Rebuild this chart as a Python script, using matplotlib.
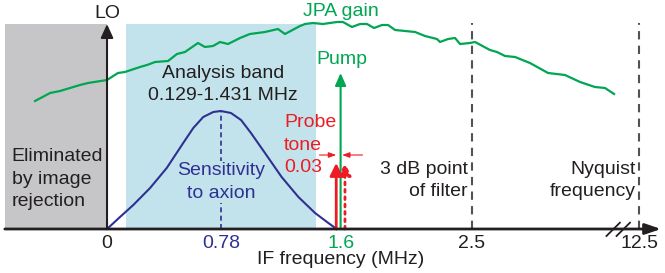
import matplotlib
matplotlib.use("Agg")
import matplotlib.pyplot as plt

plt.rcParams['font.family'] = ['Liberation Sans', 'DejaVu Sans']

# horizontal axis is in MHz up to 2.5, then broken; vertical is arbitrary height
BAND = [0.129, 1.431]
IMAGE_BAND = [-0.70, 0.0]
BOX_TOP = 205

jpa_x = [-0.493, -0.390, -0.322, -0.185, -0.130, 0.000, 0.075, 0.123, 0.226, 0.274,
         0.329, 0.418, 0.479, 0.534, 0.623, 0.671, 0.726, 0.774, 0.829, 0.911,
         0.979, 1.082, 1.171, 1.219, 1.322, 1.356, 1.411, 1.479, 1.527, 1.575,
         1.616, 1.678, 1.733, 1.781, 1.829, 1.884, 1.925, 1.973, 2.110, 2.178,
         2.260, 2.281, 2.336, 2.384, 2.418, 2.486, 2.521, 2.623, 2.671, 2.726,
         2.795, 2.897, 3.021, 3.137, 3.240, 3.342, 3.411, 3.473]
jpa_y = [128, 136, 138, 144, 146, 149, 156, 157, 162, 164,
         167, 168, 175, 177, 186, 182, 183, 187, 185, 191,
         195, 197, 200, 195, 203, 205, 206, 205, 206, 207,
         207, 202, 205, 205, 201, 204, 204, 199, 197, 193,
         190, 187, 190, 191, 185, 186, 187, 179, 177, 173,
         172, 166, 156, 154, 147, 142, 141, 135]

sens_x = [0, 0.089, 0.18, 0.295, 0.409, 0.522, 0.591, 0.659, 0.728, 0.78,
          0.849, 0.918, 0.986, 1.082, 1.196, 1.311, 1.425, 1.516, 1.573]
sens_y = [0, 12, 24, 41, 61, 86, 101, 112, 117, 118,
          116, 109, 96, 76, 52, 32, 16, 6, 0]
sens_peak = 0.78

pump_f = 1.6
pump_h = 156
probe_f = [1.57, 1.63]
probe_h = 66
filter_3db = 2.5
nyquist_pos = 3.645   # drawn position of 12.5 MHz after the axis break
tick_pos = [0, 0.78, 1.6, 2.5, nyquist_pos]
tick_labels = ['0', '0.78', '1.6', '2.5', '12.5']

DARK = '#231f20'
NAVY = '#2e3192'
GREEN = '#00a651'
RED = '#ed1c24'
LBLUE = '#c3e3ec'
GRAY = '#c6c6c8'
DASH = '#4f5257'
FS = 14
LS = 1.45

fig = plt.figure(figsize=(6.65, 2.73), dpi=100)
ax = fig.add_axes([0, 0, 1, 1])
ax.set_xlim(-0.733, 3.822)
ax.set_ylim(-44, 229)
ax.axis('off')

ax.axvspan(IMAGE_BAND[0], IMAGE_BAND[1], ymin=44/273, ymax=(44+BOX_TOP)/273, color=GRAY, lw=0)
ax.axvspan(BAND[0], BAND[1], ymin=44/273, ymax=(44+BOX_TOP)/273, color=LBLUE, lw=0)

ax.plot(jpa_x, jpa_y, color=GREEN, lw=1.6)
ax.plot(sens_x, sens_y, color=NAVY, lw=1.5)
ax.plot([sens_peak, sens_peak], [0, max(sens_y)], color=NAVY, lw=1.2, dashes=(3, 2))

for xv in [filter_3db, nyquist_pos]:
    ax.plot([xv, xv], [0, BOX_TOP + 1], color=DASH, lw=1.5, dashes=(4, 3))

# LO arrow
ax.annotate('', xy=(0, BOX_TOP), xytext=(0, 0),
            arrowprops=dict(arrowstyle='-|>,head_length=0.55,head_width=0.25',
                            mutation_scale=15, lw=1.5, color=DARK, shrinkA=0, shrinkB=0))
# pump
ax.annotate('', xy=(pump_f, pump_h), xytext=(pump_f, 0),
            arrowprops=dict(arrowstyle='-|>,head_length=0.5,head_width=0.22',
                            mutation_scale=15, lw=1.5, color=GREEN, shrinkA=0, shrinkB=0))
# probe tone and its image
for f, ls in zip(probe_f, ['-', ':']):
    ax.annotate('', xy=(f, probe_h), xytext=(f, 0),
                arrowprops=dict(arrowstyle='-|>,head_length=0.5,head_width=0.25',
                                mutation_scale=15, lw=2, color=RED, ls=ls,
                                shrinkA=0, shrinkB=0))
# spacing markers
ax.annotate('', xy=(probe_f[0], 74), xytext=(1.455, 74),
            arrowprops=dict(arrowstyle='-|>,head_length=0.5,head_width=0.18',
                            mutation_scale=9, lw=0.8, color=RED, shrinkA=0, shrinkB=0))
ax.annotate('', xy=(pump_f + 0.01, 74), xytext=(1.75, 74),
            arrowprops=dict(arrowstyle='-|>,head_length=0.5,head_width=0.18',
                            mutation_scale=9, lw=0.8, color=RED, shrinkA=0, shrinkB=0))

# frequency axis with break
ax.annotate('', xy=(3.795, 0), xytext=(-0.70, 0),
            arrowprops=dict(arrowstyle='-|>,head_length=0.5,head_width=0.17',
                            mutation_scale=19, lw=2, color=DARK, shrinkA=0, shrinkB=0))
for x0 in [3.421, 3.490]:
    ax.plot([x0, x0 + 0.092], [-7, 6.3], color=DARK, lw=1.3)

tick_colors = [DARK, NAVY, GREEN, DARK, DARK]
for p, lab, c in zip(tick_pos, tick_labels, tick_colors):
    ax.text(p, -15, lab, color=c, fontsize=FS, ha='center', va='center')
ax.text(1.60, -31, 'IF frequency (MHz)', color=DARK, fontsize=FS, ha='center', va='center')

ax.text(0, 216, 'LO', color=DARK, fontsize=FS, ha='center', va='center')
ax.text(1.60, 218, 'JPA gain', color=GREEN, fontsize=FS, ha='center', va='center')
ax.text(0.795, 144.5, 'Analysis band\n0.129-1.431 MHz', color=DARK, fontsize=FS,
        ha='center', va='center', linespacing=LS)
ax.text(-0.653, 50, 'Eliminated\nby image\nrejection', color=DARK, fontsize=FS,
        ha='left', va='center', linespacing=LS)
ax.text(0.78, 47, 'Sensitivity\nto axion', color=NAVY, fontsize=FS, ha='center', va='center',
        linespacing=LS, bbox=dict(facecolor=LBLUE, edgecolor='none', pad=0.5))
ax.text(1.212, 84, 'Probe\ntone\n0.03', color=RED, fontsize=FS, ha='left', va='center',
        linespacing=LS)
ax.text(1.61, 169, 'Pump', color=GREEN, fontsize=FS, ha='center', va='center')
ax.text(2.47, 48.5, '3 dB point\nof filter', color=DARK, fontsize=FS, ha='right', va='center',
        linespacing=LS, multialignment='right')
ax.text(3.623, 48.5, 'Nyquist\nfrequency', color=DARK, fontsize=FS, ha='right', va='center',
        linespacing=LS, multialignment='right')

fig.savefig('out.png', dpi=100)
